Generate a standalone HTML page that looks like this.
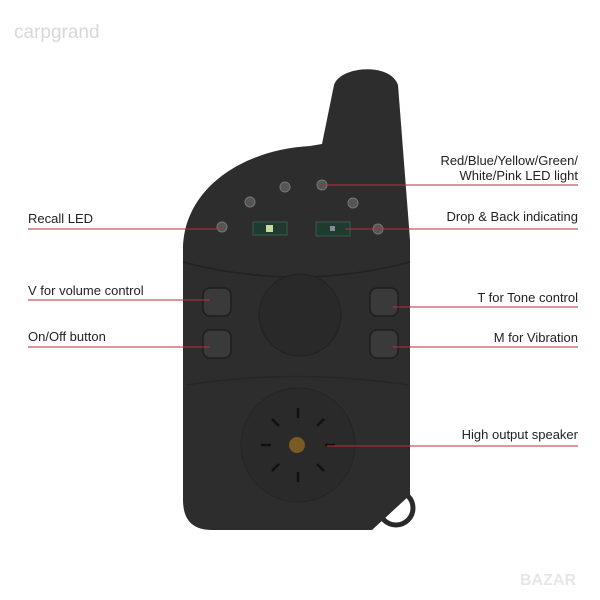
<!DOCTYPE html>
<html><head><style>
body{margin:0;width:600px;height:600px;background:#fff;overflow:hidden;font-family:"Liberation Sans",sans-serif}
.t{position:absolute;font-size:13px;color:#222;white-space:nowrap}
.r{text-align:right;right:22px}
</style></head><body>
<svg width="600" height="600" style="position:absolute;left:0;top:0">
<text x="14" y="38" font-size="19" fill="#d8d8d8" font-family="Liberation Sans">carpgrand</text>
<text x="520" y="585" font-size="16" fill="#e6e6e6" font-weight="bold" font-family="Liberation Sans">BAZAR</text>
<!-- keyring -->
<circle cx="396" cy="508" r="17" fill="none" stroke="#2a2a2a" stroke-width="5"/>
<!-- body -->
<path d="M183,250 C183,190 240,150 310,146 L322,144 L334,85 C340,66 390,62 398,85 L410,240 L410,495 L372,530 L212,530 Q183,530 183,500 Z" fill="#2d2d2d"/>
<path d="M183,262 Q296,292 410,262" fill="none" stroke="#222" stroke-width="1.5"/>
<path d="M186,385 Q296,368 408,385" fill="none" stroke="#262626" stroke-width="1.5"/>
<!-- LEDs -->
<g fill="#555" stroke="#777" stroke-width="1">
<circle cx="250" cy="202" r="5"/><circle cx="285" cy="187" r="5"/><circle cx="322" cy="185" r="5"/><circle cx="353" cy="203" r="5"/><circle cx="222" cy="227" r="5"/><circle cx="378" cy="229" r="5"/></g>
<rect x="253" y="222" width="34" height="13" fill="#1e3b30" stroke="#3a5a4a"/>
<rect x="266" y="225" width="7" height="7" fill="#c8d8a0"/>
<rect x="316" y="222" width="34" height="14" fill="#1e3b30" stroke="#3a5a4a"/>
<rect x="330" y="226" width="5" height="5" fill="#889"/>
<!-- buttons -->
<g fill="#3a3a3a" stroke="#1e1e1e" stroke-width="1.5">
<rect x="203" y="288" width="28" height="28" rx="7"/><rect x="203" y="330" width="28" height="28" rx="7"/>
<rect x="370" y="288" width="28" height="28" rx="7"/><rect x="370" y="330" width="28" height="28" rx="7"/></g>
<circle cx="300" cy="315" r="41" fill="#292929" stroke="#222"/>
<circle cx="298" cy="445" r="57" fill="#2a2a2a" stroke="#252525"/>
<g stroke="#111" stroke-width="2.5">
<line x1="298" y1="408" x2="298" y2="418"/><line x1="298" y1="472" x2="298" y2="482"/>
<line x1="261" y1="445" x2="271" y2="445"/><line x1="325" y1="445" x2="335" y2="445"/>
<line x1="272" y1="419" x2="279" y2="426"/><line x1="317" y1="464" x2="324" y2="471"/>
<line x1="324" y1="419" x2="317" y2="426"/><line x1="279" y1="464" x2="272" y2="471"/></g>
<circle cx="297" cy="445" r="8" fill="#7a5a25"/>
<!-- leader lines -->
<g stroke="#b5303a" stroke-width="1">
<line x1="28" y1="229" x2="222" y2="229"/><line x1="28" y1="300" x2="210" y2="300"/><line x1="28" y1="347" x2="210" y2="347"/>
<line x1="325" y1="185" x2="578" y2="185"/><line x1="345" y1="229" x2="578" y2="229"/><line x1="393" y1="307" x2="578" y2="307"/>
<line x1="393" y1="347" x2="578" y2="347"/><line x1="327" y1="446" x2="578" y2="446"/></g>
</svg>
<div class="t" style="left:28px;top:211px">Recall LED</div>
<div class="t" style="left:28px;top:283px">V for volume control</div>
<div class="t" style="left:28px;top:329px">On/Off button</div>
<div class="t r" style="top:153px;line-height:15px">Red/Blue/Yellow/Green/<br>White/Pink LED light</div>
<div class="t r" style="top:209px">Drop &amp; Back indicating</div>
<div class="t r" style="top:290px">T for Tone control</div>
<div class="t r" style="top:330px">M for Vibration</div>
<div class="t r" style="top:427px">High output speaker</div>
</body></html>
